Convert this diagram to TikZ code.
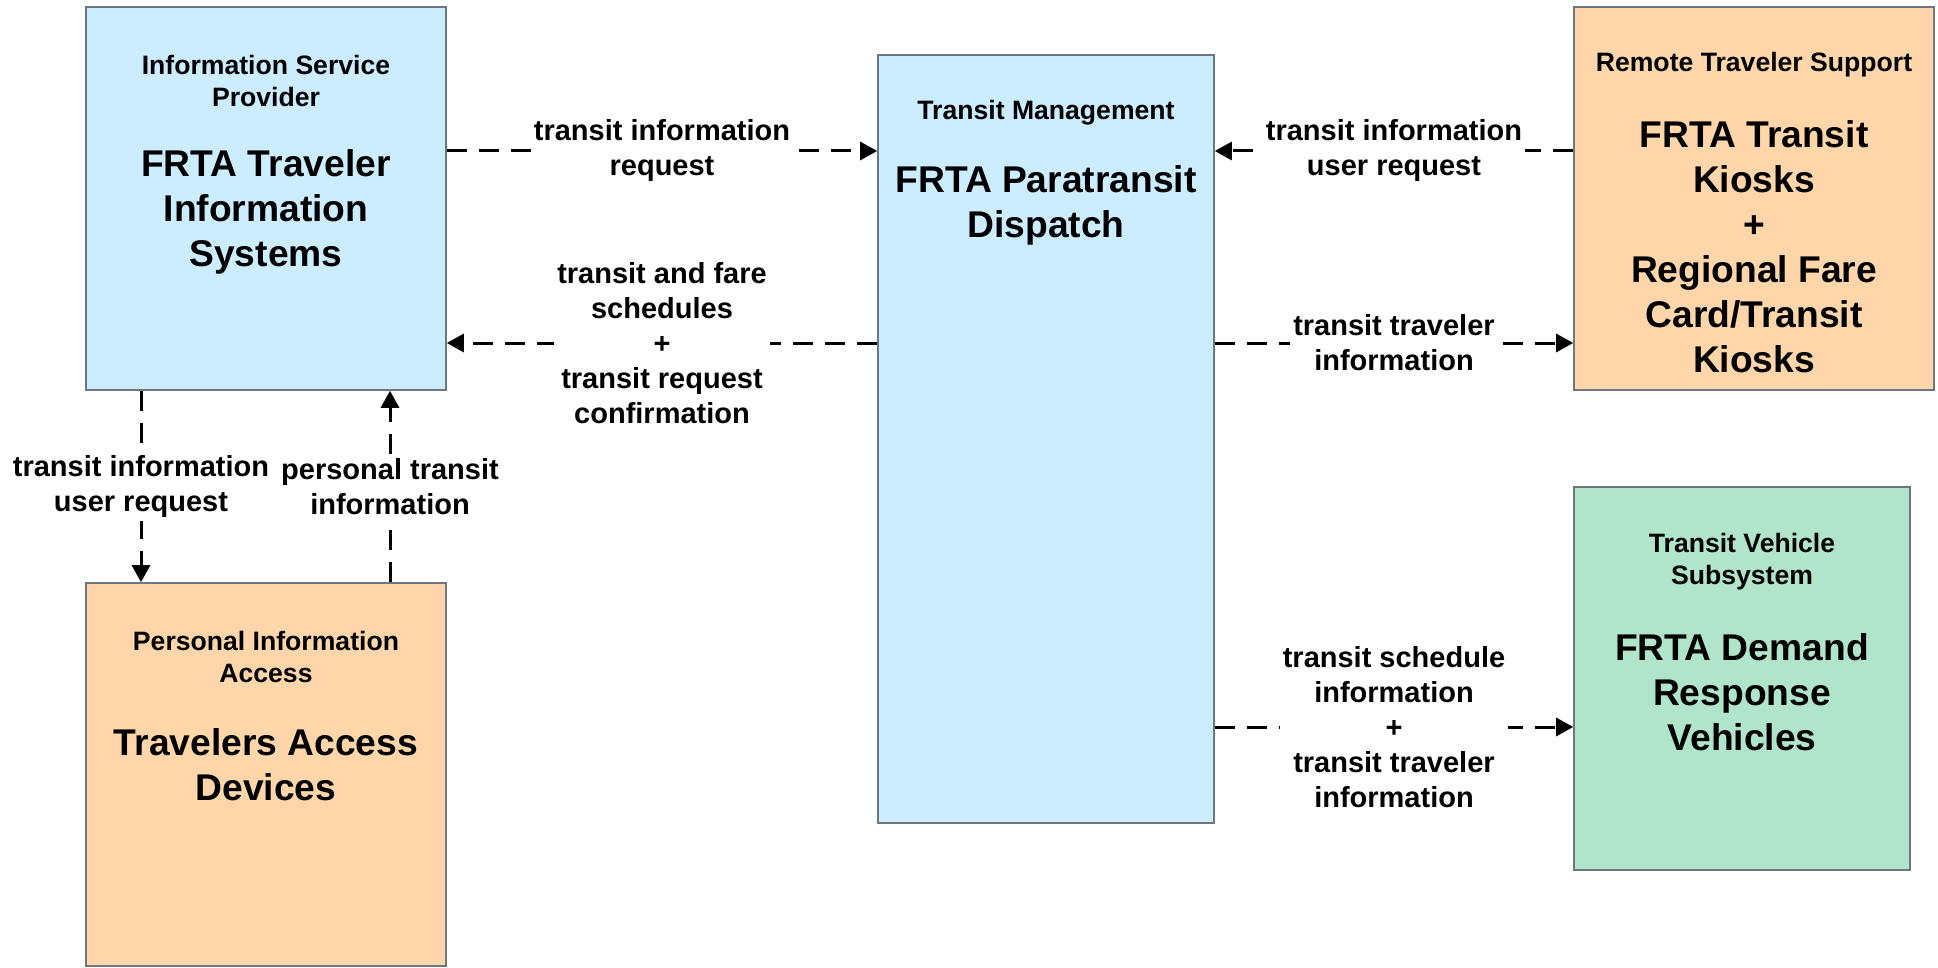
\documentclass[tikz,border=0pt]{standalone}
\usepackage{fontspec}
\setmainfont{Liberation Sans}
\usepackage{xcolor}
\usetikzlibrary{positioning, calc, arrows.meta}
\definecolor{tmblue}{HTML}{CCECFF}
\definecolor{rtsorange}{HTML}{FFD6AA}
\definecolor{tvsgreen}{HTML}{B0E5CC}
\definecolor{boxedge}{HTML}{6E7780}

\begin{document}
\begin{tikzpicture}[
    x=0.5pt, y=-0.5pt,
    box/.style={rectangle, draw=boxedge, line width=0.8pt, minimum width=180pt, minimum height=191.5pt, inner sep=0pt},
    subsys/.style={font=\fontsize{13.3}{16}\selectfont\bfseries, align=center, inner sep=0pt},
    sysname/.style={font=\fontsize{18.6}{22.5}\selectfont\bfseries, align=center, inner sep=0pt},
    flow/.style={line width=1.5pt, dash pattern=on 10pt off 6pt, -{Triangle[length=8.5pt, width=9pt]}},
    flowlbl/.style={font=\fontsize{14.5}{17.5}\selectfont\bfseries, align=center, fill=white, inner sep=1.5pt}
]
\useasboundingbox (0,0) rectangle (1938,968);

% Subsystem boxes
\node[box, fill=tmblue] (isp) at (266,198.5) {};
\node[box, fill=rtsorange] (pia) at (266,774.5) {};
\node[box, fill=tmblue, minimum width=168pt, minimum height=384pt] (tm) at (1046,439) {};
\node[box, fill=rtsorange] (rts) at (1754,198.5) {};
\node[box, fill=tvsgreen, minimum width=168pt] (tvs) at (1742,678.5) {};

% Box texts
\node[subsys] (ispsub) at (266,81) {Information Service\\Provider};
\node[sysname] (ispname) at (266,212) {FRTA Traveler\\Information\\Systems};
\node[subsys] (piasub) at (266,656.5) {Personal Information\\Access};
\node[sysname] (pianame) at (266,765) {Travelers Access\\Devices};
\node[subsys] (tmsub) at (1046,113) {Transit Management};
\node[sysname] (tmname) at (1046,205.5) {FRTA Paratransit\\Dispatch};
\node[subsys] (rtssub) at (1754,65) {Remote Traveler Support};
\node[sysname] (rtsname) at (1754,246.5) {FRTA Transit\\Kiosks\\+\\Regional Fare\\Card/Transit\\Kiosks};
\node[subsys] (tvssub) at (1742,561.5) {Transit Vehicle\\Subsystem};
\node[sysname] (tvsname) at (1742,692) {FRTA Demand\\Response\\Vehicles};

% Flow rows and columns
\coordinate (row1) at (0,151);
\coordinate (row2) at (0,343);
\coordinate (row3) at (0,727);
\coordinate (col1) at (141,0);
\coordinate (col2) at (390,0);

% Flows
\draw[flow] (isp.east |- row1) -- node[flowlbl] {transit information\\request} (tm.west |- row1);
\draw[flow] (tm.west |- row2) -- node[flowlbl] {transit and fare\\schedules\\+\\transit request\\confirmation} (isp.east |- row2);
\draw[flow] (rts.west |- row1) -- node[flowlbl] {transit information\\user request} (tm.east |- row1);
\draw[flow] (tm.east |- row2) -- node[flowlbl] {transit traveler\\information} (rts.west |- row2);
\draw[flow] (tm.east |- row3) -- node[flowlbl] {transit schedule\\information\\+\\transit traveler\\information} (tvs.west |- row3);
\draw[flow] (isp.south -| col1) -- node[flowlbl] {transit information\\user request} (pia.north -| col1);
\draw[flow] (pia.north -| col2) -- node[flowlbl] {personal transit\\information} (isp.south -| col2);

\end{tikzpicture}
\end{document}
